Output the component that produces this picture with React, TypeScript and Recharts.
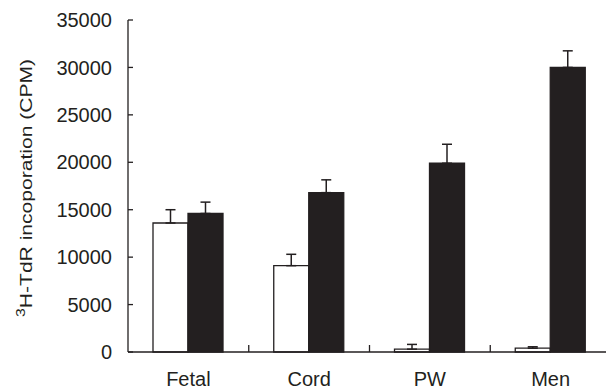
import { BarChart, Bar, XAxis, YAxis, ErrorBar } from 'recharts';

const categories = ['Fetal', 'Cord', 'PW', 'Men'];
const openValues = [13600, 9100, 300, 400];
const openErrors = [1400, 1200, 500, 150];
const filledValues = [14600, 16800, 19900, 30000];
const filledErrors = [1200, 1350, 2000, 1750];
const yTicks = [0, 5000, 10000, 15000, 20000, 25000, 30000, 35000];

const ink = '#231f20';
const font = '"Liberation Sans", Arial, sans-serif';

const data = categories.map((name, i) => ({
  name,
  open: openValues[i],
  openErr: [0, openErrors[i]],
  filled: filledValues[i],
  filledErr: [0, filledErrors[i]],
}));

function YTick({ x, y, payload }: any) {
  return (
    <g>
      <line x1={x} y1={y} x2={x + 5} y2={y} stroke={ink} strokeWidth={1.3} />
      <text x={x - 16} y={y} dy="0.36em" textAnchor="end" fontSize={20} fontFamily={font} fill={ink}>
        {payload.value}
      </text>
    </g>
  );
}

function XTick({ x, y, payload, index }: any) {
  const half = payload.offset ?? 60;
  return (
    <g>
      {index < categories.length - 1 && (
        <line x1={x + half} y1={y} x2={x + half} y2={y - 7} stroke={ink} strokeWidth={1.3} />
      )}
      <text x={x} y={y + 34} textAnchor="middle" fontSize={20} fontFamily={font} fill={ink}>
        {payload.value}
      </text>
    </g>
  );
}

function YLabel({ viewBox }: any) {
  const cy = viewBox.y + viewBox.height / 2 + 2;
  return (
    <text
      x={32}
      y={cy}
      transform={`rotate(-90, 32, ${cy})`}
      textAnchor="middle"
      fontSize={16}
      fontFamily={font}
      fill={ink}
      textLength={258}
      lengthAdjust="spacingAndGlyphs"
    >
      <tspan fontSize={12} dy={-7}>3</tspan>
      <tspan dy={7}>H-TdR incoporation (CPM)</tspan>
    </text>
  );
}

export default function App() {
  return (
    <div style={{ position: 'absolute', left: 0, top: 0, width: 606, height: 389, overflow: 'hidden', background: '#fff' }}>
      <BarChart
        width={611}
        height={389}
        data={data}
        margin={{ top: 20, right: 0, left: 0, bottom: 0 }}
        barSize={35}
        barGap={0}
      >
        <XAxis
          dataKey="name"
          height={37}
          interval={0}
          tickSize={0}
          tickMargin={0}
          tickLine={false}
          axisLine={{ stroke: ink, strokeWidth: 1.3 }}
          tick={<XTick />}
        />
        <YAxis
          width={128}
          domain={[0, 35000]}
          ticks={yTicks}
          interval={0}
          tickSize={0}
          tickMargin={0}
          tickLine={false}
          axisLine={{ stroke: ink, strokeWidth: 1.3 }}
          tick={<YTick />}
          label={{ content: <YLabel /> }}
        />
        <Bar dataKey="open" fill="#ffffff" stroke={ink} strokeWidth={1.3} isAnimationActive={false}>
          <ErrorBar dataKey="openErr" width={5} stroke={ink} strokeWidth={1.5} isAnimationActive={false} />
        </Bar>
        <Bar dataKey="filled" fill={ink} stroke={ink} strokeWidth={1.3} isAnimationActive={false}>
          <ErrorBar dataKey="filledErr" width={5} stroke={ink} strokeWidth={1.5} isAnimationActive={false} />
        </Bar>
      </BarChart>
    </div>
  );
}
